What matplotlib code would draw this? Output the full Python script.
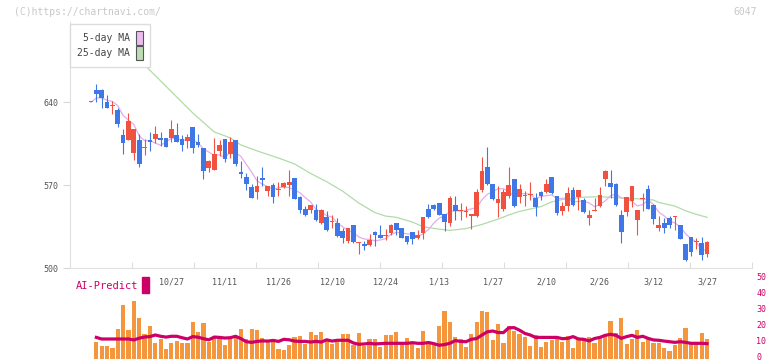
import matplotlib
matplotlib.use("Agg")
import matplotlib.pyplot as plt
import matplotlib.transforms as mtransforms
import numpy as np
import pandas as pd
from matplotlib.patches import Patch, Rectangle

# daily OHLC, one entry per session (oldest first)
opens = [640, 650.4, 650.4, 640, 636.5, 633.5, 612.4, 608.2, 597.5, 608.2,
         601.6, 608.2, 609.3, 609.9, 609.9, 610.2, 612.4, 609, 607.6, 619.2,
         606.3, 601.5, 584.9, 583.2, 599.2, 609, 596.7, 608.2, 581.5, 577.3,
         568.9, 564.6, 575.9, 565.2, 570.3, 565.8, 568.6, 570.3, 576.2, 560.4,
         550.3, 549.5, 549.5, 538.5, 543.6, 539.1, 538.5, 531.7, 523.3, 536.8,
         521, 520.7, 519.8, 530.9, 528.4, 527, 530, 538.5, 534.3, 527.5,
         530.9, 525.8, 530, 550.3, 553.7, 555.4, 546.1, 538.5, 553.7, 548.3,
         547.5, 544.4, 544.4, 566.3, 585.7, 571.4, 555.4, 550, 561, 575.3,
         560.2, 560.6, 561.5, 559.3, 564.4, 564.4, 577, 561, 548.3, 552.6,
         566.1, 560.2, 557.6, 542.4, 548, 552.6, 575.3, 572, 571.1, 545,
         547.5, 556.8, 540.8, 558.8, 566.9, 553.4, 534, 538.2, 542.4, 543,
         536.5, 520.5, 526.4, 521.9, 521.4, 512.1]
highs = [640, 655.4, 651, 646.2, 641.4, 634.9, 617.5, 630.7, 617.5, 613.3,
         608.8, 614.7, 620, 615, 609.9, 625.1, 622.8, 612.4, 613.3, 619.2,
         613.3, 601.5, 591.7, 610.2, 608.2, 609, 610.7, 608.2, 590.8, 580.1,
         571, 577.9, 585.2, 569.4, 571.9, 572.8, 572.8, 582.9, 576.2, 561.3,
         552.8, 553.7, 554.5, 550.3, 548.6, 545.3, 542.7, 534.3, 534.3, 536.8,
         522.4, 523.3, 529.2, 531.7, 536.8, 533.4, 537.6, 538.5, 534.3, 527.5,
         530.9, 532.6, 543.6, 554.5, 554.5, 555.4, 546.1, 561.3, 561.3, 555.4,
         552.8, 546.1, 567.1, 594.2, 602.6, 571.4, 569.7, 567, 585.5, 575.3,
         571.1, 565.2, 572.8, 563.5, 565.2, 575.3, 577, 561, 555.9, 568.6,
         568.6, 566.1, 559.3, 549.2, 559.3, 568.6, 582.9, 582.9, 572, 549.2,
         560.2, 569.4, 549.2, 563.5, 570.3, 554, 544.1, 542.4, 544.1, 544.1,
         536.5, 520.5, 526.4, 525.6, 526.4, 523]
lows = [640, 640.3, 635.5, 635.5, 629.9, 619.5, 596.4, 608, 591.3, 585.7,
        595.6, 599.2, 605.4, 603.2, 602, 606.8, 606.3, 599.2, 601.7, 597.5,
        602.6, 575.6, 581.5, 583, 595, 590, 593.3, 586.6, 576.5, 566.3,
        559.6, 558.7, 569.2, 561.3, 555.4, 561.3, 567.7, 561.3, 558.5, 546.9,
        544.4, 546.9, 540.2, 537.6, 531.7, 534.3, 526.7, 521.6, 521.6, 521.6,
        512.4, 515.8, 519, 519, 525.8, 524.1, 528.4, 528.4, 525.8, 520.7,
        520.7, 525, 525, 542.7, 549.5, 545.3, 531.7, 536, 541, 541,
        543.6, 533.4, 543.6, 564.6, 570.6, 557.9, 543.6, 548, 559, 551.7,
        555.1, 552.6, 557.6, 544.1, 557.6, 563.5, 562.7, 545, 545, 548.3,
        552.6, 549.2, 546.7, 536.5, 548, 551.7, 569.4, 559.3, 552.6, 521.4,
        544.1, 551.7, 528.1, 548.3, 550, 537.4, 531.5, 530, 534, 532.3,
        524.7, 506.2, 510.4, 516.3, 507, 509.6]
closes = [640, 647.3, 643.9, 635.5, 637, 622, 606, 624.2, 617.5, 588.3,
          602, 606.8, 613.3, 608.2, 602.6, 617.5, 606.8, 604.3, 610.7, 601.7,
          604.3, 582.4, 590.8, 596.7, 604.3, 592.5, 606.3, 588.3, 579.8, 571.4,
          559.6, 569.4, 574.8, 569.4, 560.2, 566.1, 571.9, 572.8, 558.5, 549.5,
          545.3, 553.7, 541, 549.5, 532.6, 539.4, 527.5, 525.8, 534.3, 522.4,
          522, 519, 524.1, 528.4, 525.8, 527.8, 536.8, 532.6, 525.8, 522.4,
          525, 528.4, 543.6, 543.6, 550.3, 545.3, 539.4, 559.6, 548.6, 548.6,
          547.8, 546.1, 564.6, 582.4, 571.4, 558.7, 558.7, 564.4, 570.3, 552.6,
          566.9, 561, 561.8, 551.7, 561, 571.1, 563.5, 546.7, 552.6, 563.5,
          553.4, 566.1, 547.5, 545, 548.3, 561.8, 582.1, 568.6, 553.4, 530.6,
          560.2, 569.4, 549.2, 559.3, 550, 541.6, 536.5, 534, 536.5, 543.3,
          524.7, 507, 513.8, 522.2, 511.2, 522.2]

# 25-day moving average (session, value)
ma25_session = [8, 11, 13, 17, 19, 23, 26, 28, 31, 35, 38, 41, 44, 47, 50, 53,
                55, 57, 60, 62, 65, 67, 70, 73, 76, 78, 80, 84, 86, 88, 92, 95,
                100, 103, 105, 106, 109, 111, 113, 115]
ma25_value = [681, 667, 658, 640, 631, 615, 610, 604, 599, 593, 588, 580, 573,
              565, 555, 547, 544, 543, 539, 535, 533, 532, 533.5, 537, 541.5,
              545, 548, 552, 556, 558, 560, 560.4, 559, 558.4, 557.6, 555.5,
              552.5, 548.5, 545.5, 543]

# volume panel (first session has no bar)
volume = [None,
          10.6, 8.1, 8.1, 6.9, 18.8, 33.8, 18.1, 36.3, 25.6, 15.6,
          20.6, 10, 12.5, 6.25, 10, 11.3, 10, 10, 23.1, 16.9,
          22.5, 10.6, 13.1, 14.4, 8.75, 13.1, 13.1, 18.8, 12.5, 18.8,
          18.1, 13.1, 10.6, 11.3, 6.25, 5.6, 8.75, 13.75, 14.4, 9.4,
          16.9, 15, 16.9, 11.9, 9.4, 10.6, 15.6, 15.6, 8.75, 16.25,
          8.1, 12.5, 12.5, 7.5, 15, 15, 16.9,
          9.8, 13.1, 10.6, 6.9, 17.5, 10.6, 8.75, 20.6, 30, 23.1,
          13.75, 12.5, 7.5, 15.6, 22.9, 30, 29.4, 11.9, 21.9, 10,
          20.6, 17.5, 15.6, 13.75, 8.1, 15, 7.5, 10.6, 11.9, 13.1,
          10.6, 14.4, 6.9, 12.5, 12.5, 13.75, 10, 13.1, 14.4, 23.75,
          16.25, 25.6, 9.4, 12.5, 18.1, 10.6, 12.5, 10, 10, 6.9,
          5, 8.75, 13.1, 19.4, 10.6, 10.6, 16.25, 12.5]
ai_predict = [None,
              13.5, 12.5, 12.5, 12.5, 12.5, 12.5, 12.5, 11.9, 13.0, 13.75,
              14.0, 15.0, 14.2, 13.7, 14.2, 14.2, 13.3, 12.5, 14.0, 13.6,
              12.7, 12.0, 13.7, 13.5, 13.1, 13.3, 14.2, 12.7, 10.8, 10.4,
              11.0, 11.3, 11.2, 11.6, 11.0, 12.3, 12.0, 11.2, 11.0, 11.0,
              10.6, 11.0, 10.6, 12.0, 11.2, 11.7, 11.7, 11.7, 10.0, 9.2,
              9.4, 9.8, 9.4, 9.6, 9.8, 9.8, 9.8,
              9.8, 9.8, 10.2, 9.8, 9.8, 10.3, 9.6, 8.6, 9.0, 9.8,
              11.5, 11.0, 10.8, 12.3, 12.8, 15.0, 17.0, 17.5, 16.5, 16.5,
              19.5, 19.6, 18.0, 16.0, 15.0, 13.5, 13.5, 13.5, 13.5, 13.5,
              12.7, 12.9, 14.0, 12.5, 12.3, 11.3, 12.8, 13.5, 14.8, 15.4,
              14.8, 12.9, 14.0, 14.8, 13.5, 14.2, 12.9, 11.9, 11.7, 11.2,
              10.8, 10.4, 10.8, 10.4, 9.8, 9.8, 9.8, 9.6]

date_labels = ["10/27", "11/11", "11/26", "12/10", "12/24", "1/13",
               "1/27", "2/10", "2/26", "3/12", "3/27"]
date_sessions = [15, 25, 35, 45, 55, 65, 75, 85, 95, 105, 115]

price_ticks = [500, 570, 640]
volume_ticks = [0, 10, 20, 30, 40, 50]

RED = "#f0523f"
BLUE = "#3f78e6"
PINK = "#cc0066"
MONO = "DejaVu Sans Mono"

W, H = 772, 361


def frame(left, top, right, bottom):
    return [left / W, 1 - bottom / H, (right - left) / W, (bottom - top) / H]


o = np.array(opens)
h = np.array(highs)
l = np.array(lows)
c = np.array(closes)
x = np.arange(len(c))
ma5 = pd.Series(c).rolling(5, min_periods=1).mean()

XMIN, XMAX = -3.92, 123.4

fig = plt.figure(figsize=(W / 100, H / 100), dpi=100)

# price panel
ax = fig.add_axes(frame(70, 22, 752, 268.3))
ax.set_xlim(XMIN, XMAX)
ax.set_ylim(500, 707.7)

ax.plot(x, ma5, color="#e2aeea", lw=0.9, zorder=1)
ax.plot(ma25_session, ma25_value, color="#b0dca8", lw=0.9, zorder=1)

colors = np.where(c >= o, RED, BLUE)
ax.vlines(x, l, h, colors=colors, lw=0.8, zorder=2)
ax.bar(x, np.maximum(np.abs(c - o), 0.9), bottom=np.minimum(o, c),
       width=0.88, color=colors, linewidth=0, zorder=3)

for side in ("top", "right"):
    ax.spines[side].set_visible(False)
for side in ("left", "bottom"):
    ax.spines[side].set_color("#e0e0e0")
ax.set_yticks(price_ticks)
ax.tick_params(axis="y", length=5, color="#d8d8d8", labelcolor="#555555",
               labelsize=6, pad=3)
for lab in ax.get_yticklabels():
    lab.set_family(MONO)
ax.set_xticks([XMIN + k * (XMAX - XMIN) / 11 for k in range(1, 12)])
ax.tick_params(axis="x", direction="in", length=4, color="#dddddd",
               labelbottom=False)

handles = [Patch(facecolor="#ecbcf0", edgecolor="#555555", lw=0.8),
           Patch(facecolor="#bcdcb4", edgecolor="#555555", lw=0.8)]
leg = ax.legend(handles, ["5-day MA", "25-day MA"], loc="upper left",
                bbox_to_anchor=(0, 1 - 2 / 246.3), borderaxespad=0,
                markerfirst=False, fancybox=False, framealpha=1,
                edgecolor="#dddddd", prop={"family": MONO, "size": 7},
                handlelength=0.7, handleheight=1.8, handletextpad=0.6,
                labelspacing=0.1, borderpad=0.75)
leg.set_zorder(5)
for t in leg.get_texts():
    t.set_color("#444444")

# volume panel
vax = fig.add_axes(frame(70, 279, 752, 359))
vax.set_xlim(XMIN, XMAX)
vax.set_ylim(0, 50)
vol = np.array(volume, dtype=float)
ai = np.array(ai_predict, dtype=float)
vax.bar(x, vol, width=0.78, color="#f4963e", linewidth=0)
vax.plot(x, ai, color=PINK, lw=2.3)
for s in vax.spines.values():
    s.set_visible(False)
vax.set_xticks([])
vax.yaxis.tick_right()
vax.set_yticks(volume_ticks)
vax.tick_params(axis="y", length=0, pad=3, labelcolor=PINK, labelsize=6)
lift = mtransforms.ScaledTranslation(0, 1.5 / 72, fig.dpi_scale_trans)
for lab in vax.get_yticklabels():
    lab.set_family(MONO)
    lab.set_transform(lab.get_transform() + lift)

for pos, lab in zip(date_sessions, date_labels):
    vax.text(pos, 48, lab, ha="center", va="center", fontsize=6,
             color="#555555", family=MONO)

fig.text(76 / W, 1 - 286 / H, "AI-Predict", color=PINK, fontsize=7.5,
         family=MONO, va="center")
fig.add_artist(Rectangle((142 / W, 1 - 293 / H), 7 / W, 16 / H,
                         transform=fig.transFigure, color=PINK))

fig.text(14 / W, 1 - 12 / H, "(C)https://chartnavi.com/", color="#c8c8c8",
         fontsize=7, family=MONO, va="center")
fig.text(757 / W, 1 - 12 / H, "6047", color="#c8c8c8", fontsize=7,
         family=MONO, va="center", ha="right")

fig.savefig("out.png", dpi=100)
